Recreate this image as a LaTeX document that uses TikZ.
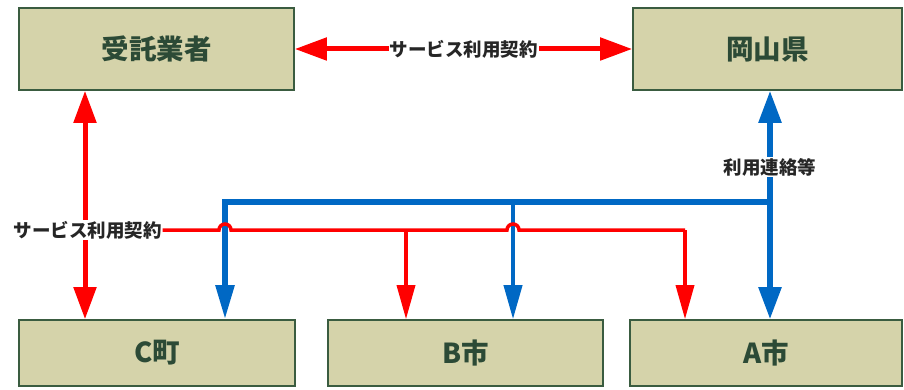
\documentclass[tikz,border=0pt]{standalone}
\usepackage{fontspec}
\newfontfamily\jpfont{Noto Sans CJK JP}
\usetikzlibrary{arrows.meta,positioning}
\definecolor{boxfill}{HTML}{D5D3AA}
\definecolor{boxline}{HTML}{3A5C40}
\definecolor{boxtext}{HTML}{2C4A36}
\definecolor{linkred}{HTML}{FF0000}
\definecolor{linkblue}{HTML}{0068C4}

\tikzset{
  party/.style={draw=boxline, line width=1.6pt, fill=boxfill, text=boxtext,
    minimum width=275pt, minimum height=82pt,
    font=\jpfont\bfseries\fontsize{27.5}{31}\selectfont},
  city/.style={party, minimum height=66pt},
  tag/.style={fill=white, inner sep=1pt, text=black!85,
    font=\jpfont\bfseries\fontsize{18.5}{21}\selectfont},
  redmain/.style={draw=linkred, line width=5pt},
  redsub/.style={draw=linkred, line width=3.5pt},
  bluemain/.style={draw=linkblue, line width=5.5pt},
  bluesub/.style={draw=linkblue, line width=4pt},
  bigtip/.tip={Triangle[length=32pt, width=22pt]},
  droptip/.tip={Triangle[length=34pt, width=18pt]}
}

\begin{document}
\begin{tikzpicture}[x=1pt, y=-1pt]
    \useasboundingbox (0,0) rectangle (904,390);

    % Boxes
    \node[party] (trustee) at (156.5,49) {受託業者};
    \node[party, minimum width=269pt] (pref) at (767.5,49) {岡山県};
    \node[city, minimum width=276pt] (townC) at (157,353) {C町};
    \node[city] (cityB) at (465.5,353) {B市};
    \node[city, minimum width=272pt] (cityA) at (766,353) {A市};

    % Upper contract arrow and label
    \draw[redmain, bigtip-bigtip] (trustee.east) -- (pref.west)
        node[tag, midway] {サービス利用契約};

    % Left contract arrow and label
    \draw[redmain, bigtip-bigtip] (trustee.south -| 85,0) -- (townC.north -| 85,0);
    \node[tag] (contract) at (87.5,230) {サービス利用契約};

    % Blue contact lines
    \coordinate (hubA) at (770,202);
    \coordinate (hubB) at (513,202);
    \coordinate (hubC) at (225,202);
    \draw[bluemain, bigtip-bigtip] (hubA |- cityA.north) -- (hubA |- pref.south);
    \draw[bluemain, -droptip] (hubA) -- (hubC) -- (hubC |- townC.north);
    \draw[bluesub, -droptip] (hubB) -- (hubB |- cityB.north);
    \node[tag] (contact) at (770,167) {利用連絡等};

    % Red contract lines with hops over the blue ones
    \coordinate (dropB) at (406,230);
    \coordinate (dropA) at (685,230);
    \draw[redsub] (contract.east) -- (219,230) arc (180:360:6) -- (507,230)
        arc (180:360:6) -- (dropA);
    \draw[redsub, -droptip] (dropB) -- (dropB |- cityB.north);
    \draw[redsub, -droptip] (dropA) -- (dropA |- cityA.north);
\end{tikzpicture}
\end{document}
